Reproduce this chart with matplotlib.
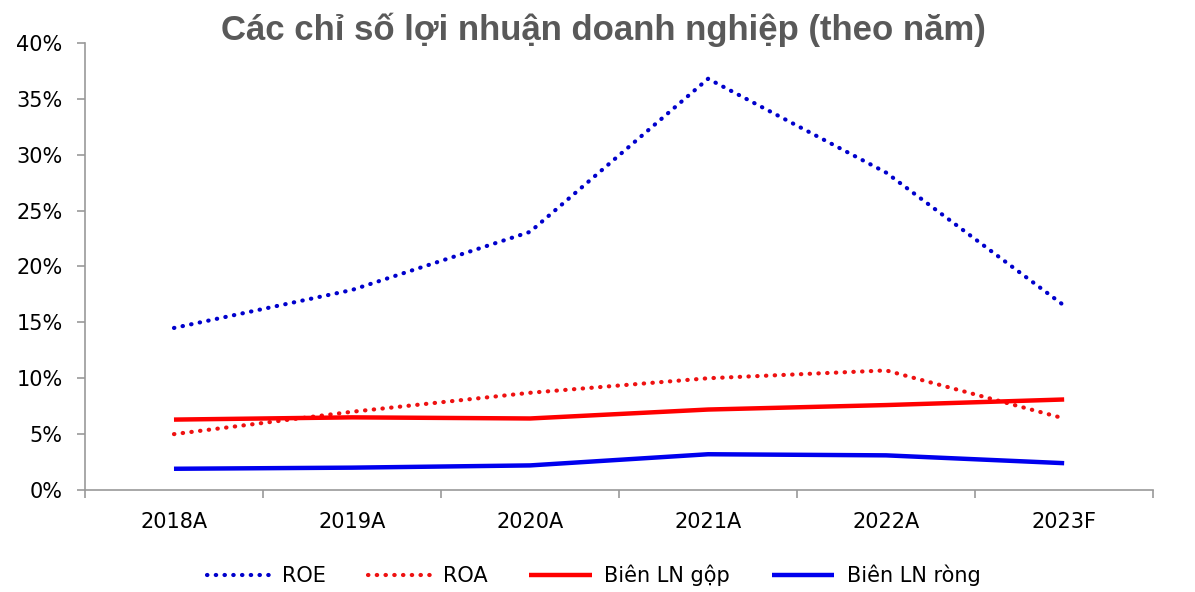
import matplotlib.pyplot as plt
from matplotlib.ticker import FuncFormatter, FixedLocator

years = ['2018A', '2019A', '2020A', '2021A', '2022A', '2023F']
roe = [14.5, 17.9, 23.1, 36.8, 28.4, 16.5]
roa = [5.0, 7.0, 8.7, 10.0, 10.7, 6.4]
gross_margin = [6.3, 6.5, 6.4, 7.2, 7.6, 8.1]
net_margin = [1.9, 2.0, 2.2, 3.2, 3.1, 2.4]

plt.rcParams['font.family'] = ['DejaVu Sans']

fig = plt.figure(figsize=(11.95, 5.92), dpi=100)
ax = fig.add_axes([0.0711, 0.1723, 0.8939, 0.7551])

x = list(range(len(years)))
dot = (0, (0.1, 2))
ax.plot(x, roe, color='#0000CC', lw=3, linestyle=dot, dash_capstyle='round', label='ROE')
ax.plot(x, roa, color='#EE1111', lw=3, linestyle=dot, dash_capstyle='round', label='ROA')
ax.plot(x, gross_margin, color='#FF0000', lw=3.2, solid_capstyle='butt', label='Biên LN gộp')
ax.plot(x, net_margin, color='#0000EE', lw=3.2, solid_capstyle='butt', label='Biên LN ròng')

ax.set_xlim(-0.5, len(years) - 0.5)
ax.set_ylim(0, 40)
ax.set_yticks(range(0, 41, 5))
ax.yaxis.set_major_formatter(FuncFormatter(lambda v, p: f'{v:.0f}%'))
ax.xaxis.set_major_locator(FixedLocator([i - 0.5 for i in range(len(years) + 1)]))
ax.xaxis.set_major_formatter(FuncFormatter(lambda v, p: ''))
ax.xaxis.set_minor_locator(FixedLocator(x))
ax.set_xticklabels(years, minor=True)
ax.tick_params(axis='x', which='minor', length=0, pad=16, labelsize=15)
ax.tick_params(axis='x', which='major', length=6, color='#999999', width=1.2)
ax.tick_params(axis='y', length=6, color='#999999', width=1.2, labelsize=15, pad=10)

for s in ['top', 'right']:
    ax.spines[s].set_visible(False)
for s in ['left', 'bottom']:
    ax.spines[s].set_color('#999999')
    ax.spines[s].set_linewidth(1.2)

fig.suptitle('Các chỉ số lợi nhuận doanh nghiệp (theo năm)', x=0.505, y=0.978,
             fontsize=25, fontweight='bold', color='#595959', family='Liberation Sans')

fig.legend(loc='lower center', bbox_to_anchor=(0.497, -0.022), ncol=4, frameon=False,
           fontsize=15, handlelength=3.0, columnspacing=2.0, handletextpad=0.6)

fig.savefig('out.png', dpi=100)
